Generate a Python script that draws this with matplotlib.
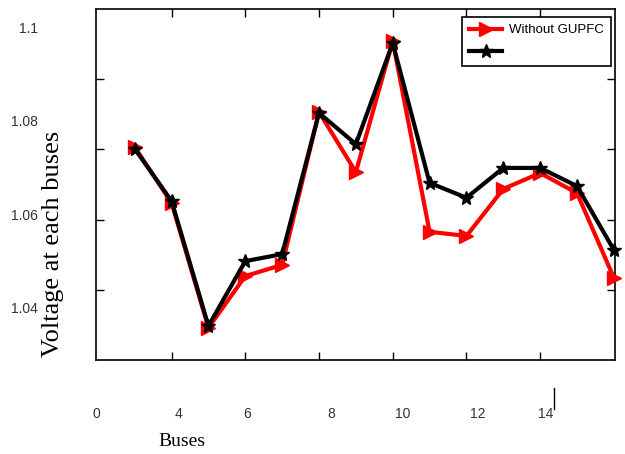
import matplotlib.pyplot as plt
from matplotlib.lines import Line2D
import numpy as np

buses = [3, 4, 5, 6, 7, 8, 9, 10, 11, 12, 13, 14, 15, 16]
v_without = [1.0744, 1.0624, 1.0356, 1.0467, 1.0491, 1.0819, 1.0690, 1.0971,
             1.0562, 1.0553, 1.0654, 1.0688, 1.0645, 1.0463]
v_with = [1.0740, 1.0628, 1.0360, 1.0499, 1.0514, 1.0817, 1.0750, 1.0967,
          1.0667, 1.0635, 1.0699, 1.0699, 1.0660, 1.0523]
xtick_marks = [4, 6, 8, 10, 12, 14]
# labels sit slightly off the tick marks in the original
xlabel_pos = [1.95, 4.19, 6.05, 8.32, 10.27, 12.3, 14.15]
xtick_labels = ['0', '4', '6', '8', '10', '12', '14']
ytick_pos = [1.04, 1.06, 1.08, 1.1]
ytick_labels = ['1.04', '1.06', '1.08', '1.1']

fig = plt.figure(figsize=(6.25, 4.54), dpi=100)
ax = fig.add_axes([96/625, 1-360/454, (615-96)/625, (360-9)/454])

ax.plot(buses, v_without, color='red', lw=3, marker='>', ms=10,
        label='Without GUPFC', clip_on=False, zorder=3)
ax.plot(buses, v_with, color='black', lw=3, marker='*', ms=10,
        label=' ', clip_on=False, zorder=4)

ax.set_xlim(2, 16.03)
ax.set_ylim(1.02869, 1.1040)

ax.set_xticks(xlabel_pos)
ax.set_xticklabels(xtick_labels, fontsize=10, family='Liberation Sans', color='#333333')
ax.set_xticks(xtick_marks, minor=True)
ax.set_yticks(ytick_pos)
ax.set_yticklabels(ytick_labels, fontsize=10, family='Liberation Sans', color='#333333')
ax.set_yticks(np.linspace(1.02869, 1.1040, 6)[1:-1], minor=True)
ax.tick_params(which='major', length=0, pad=34, axis='x')
ax.tick_params(which='major', length=0, pad=42, axis='y')
ax.tick_params(which='minor', direction='in', length=6, width=1,
               top=True, right=True)
for s in ax.spines.values():
    s.set_linewidth(1.2)

fig.text(53/625, 1-244/454, 'Voltage at each buses', rotation=90,
         family='Liberation Serif', fontsize=19, ha='center', va='center')
fig.text(182/625, 1-441/454, 'Buses', family='Liberation Serif',
         fontsize=14, ha='center', va='center')
fig.add_artist(Line2D([554/625, 554/625], [1-388/454, 1-409/454],
                      color='black', lw=1))

leg = ax.legend(loc='upper right', bbox_to_anchor=(611/625, 1-17/454),
                bbox_transform=fig.transFigure, fancybox=False,
                edgecolor='black', framealpha=1, borderaxespad=0,
                prop={'family': 'Liberation Sans', 'size': 9.5},
                handlelength=2.5, borderpad=0.55, labelspacing=0.75,
                handletextpad=0.5)
leg.get_frame().set_linewidth(1.2)

fig.savefig('out.png', dpi=100)
